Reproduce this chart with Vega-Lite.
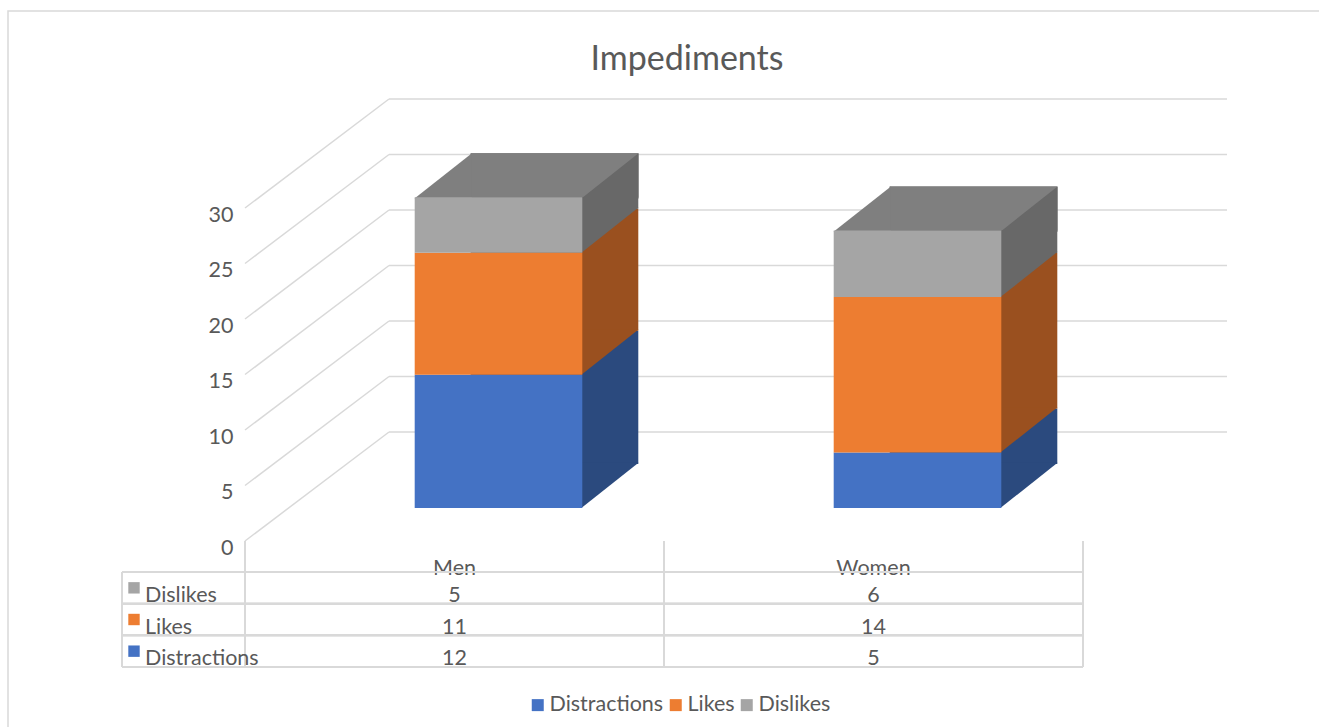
{
  "$schema": "https://vega.github.io/schema/vega-lite/v6.json",
  "width": 838,
  "height": 333,
  "autosize": {"type": "none"},
  "padding": {"left": 245, "top": 208, "right": 236, "bottom": 186},
  "background": "white",
  "config": {"view": {"stroke": null}, "font": "Lato"},
  "title": {
    "text": "Impediments",
    "font": "Lato",
    "fontSize": 34,
    "fontWeight": "normal",
    "color": "#595959",
    "anchor": "middle",
    "frame": "group",
    "baseline": "alphabetic",
    "dx": 23,
    "offset": -94
  },
  "datasets": {
    "main": [
      {"group": "Men", "series": "Distractions", "rank": 1, "value": 12},
      {"group": "Men", "series": "Likes", "rank": 2, "value": 11},
      {"group": "Men", "series": "Dislikes", "rank": 3, "value": 5},
      {"group": "Women", "series": "Distractions", "rank": 1, "value": 5},
      {"group": "Women", "series": "Likes", "rank": 2, "value": 14},
      {"group": "Women", "series": "Dislikes", "rank": 3, "value": 6}
    ],
    "ticks": [
      {"tick": 0}, {"tick": 5}, {"tick": 10}, {"tick": 15}, {"tick": 20}, {"tick": 25}, {"tick": 30}
    ],
    "one": [{}]
  },
  "data": {"name": "main"},
  "transform": [
    {"stack": "value", "groupby": ["group"], "sort": [{"field": "rank", "order": "ascending"}], "as": ["v0", "v1"]}
  ],
  "layer": [
    {
      "layer": [
        {
          "data": {"name": "one"},
          "mark": {"type": "rect", "filled": false, "stroke": "#d9d9d9", "strokeWidth": 1.5},
          "encoding": {
            "x": {"value": -237}, "x2": {"value": 1080},
            "y": {"value": -197}, "y2": {"value": 530}
          }
        },
        {
          "data": {"name": "ticks"},
          "mark": {"type": "rule", "stroke": "#d9d9d9", "strokeWidth": 1.5, "y2Offset": -109},
          "encoding": {
            "x": {"value": 0}, "x2": {"value": 144},
            "y": {"field": "tick", "type": "quantitative", "scale": {"domain": [0, 30], "nice": false}},
            "y2": {"field": "tick"}
          }
        },
        {
          "data": {"name": "ticks"},
          "mark": {"type": "rule", "stroke": "#d9d9d9", "strokeWidth": 1.5, "yOffset": -109},
          "encoding": {
            "x": {"value": 144}, "x2": {"value": 982},
            "y": {"field": "tick", "type": "quantitative", "scale": {"domain": [0, 30], "nice": false}}
          }
        },
        {
          "mark": {"type": "bar", "width": {"band": 0.4}, "xOffset": 100, "yOffset": -77, "y2Offset": -77},
          "encoding": {
            "x": {"field": "group", "type": "nominal"},
            "y": {"field": "v1", "type": "quantitative", "stack": null, "scale": {"domain": [0, 30], "nice": false}},
            "y2": {"field": "v0"},
            "fill": {"field": "series", "type": "nominal", "legend": null,
              "scale": {"domain": ["Dislikes", "Likes", "Distractions"], "range": ["#686868", "#9a501f", "#2b4a7e"]}}
          }
        },
        {
          "transform": [{"filter": {"field": "rank", "equal": 3}}],
          "mark": {"type": "bar", "width": {"band": 0.4}, "xOffset": 100, "yOffset": -77, "y2Offset": -33, "fill": "#7f7f7f"},
          "encoding": {
            "x": {"field": "group", "type": "nominal"},
            "y": {"field": "v1", "type": "quantitative", "stack": null, "scale": {"domain": [0, 30], "nice": false}},
            "y2": {"field": "v1"}
          }
        },
        {
          "mark": {"type": "point", "shape": "M-1.04,-0.83L1,-0.83L-1.04,0.7857Z", "size": 3136, "filled": true, "opacity": 1, "strokeWidth": 0, "xOffset": 156, "yOffset": -55},
          "encoding": {
            "x": {"field": "group", "type": "nominal"},
            "y": {"field": "v0", "type": "quantitative", "scale": {"domain": [0, 30], "nice": false}},
            "fill": {"field": "series", "type": "nominal", "legend": null,
              "scale": {"domain": ["Dislikes", "Likes", "Distractions"], "range": ["#686868", "#9a501f", "#2b4a7e"]}}
          }
        },
        {
          "transform": [{"filter": {"field": "rank", "equal": 3}}],
          "mark": {"type": "point", "shape": "M-1,0.83L1.05,-0.7857L1.05,0.83Z", "size": 3136, "filled": true, "opacity": 1, "strokeWidth": 0, "xOffset": -12, "yOffset": -55, "fill": "#7f7f7f"},
          "encoding": {
            "x": {"field": "group", "type": "nominal"},
            "y": {"field": "v1", "type": "quantitative", "scale": {"domain": [0, 30], "nice": false}}
          }
        },
        {
          "transform": [{"filter": {"field": "rank", "equal": 3}}],
          "mark": {"type": "point", "shape": "M-1.04,0.83L1,0.83L1,-0.7857Z", "size": 3136, "filled": true, "opacity": 1, "strokeWidth": 0, "xOffset": 156, "yOffset": -55, "fill": "#686868"},
          "encoding": {
            "x": {"field": "group", "type": "nominal"},
            "y": {"field": "v1", "type": "quantitative", "scale": {"domain": [0, 30], "nice": false}}
          }
        },
        {
          "mark": {"type": "bar", "width": {"band": 0.4}, "xOffset": 44, "yOffset": -33, "y2Offset": -33},
          "encoding": {
            "x": {"field": "group", "type": "nominal", "sort": ["Men", "Women"],
              "scale": {"paddingInner": 0, "paddingOuter": 0},
              "axis": {"title": null, "domain": false, "ticks": false, "tickSize": 0, "grid": false, "labelAngle": 0,
                "labelAlign": "center", "labelPadding": 33, "labelBaseline": "alphabetic", "labelFontSize": 21.5, "labelFont": "Lato", "labelColor": "#595959"}},
            "y": {"field": "v1", "type": "quantitative", "stack": null,
              "scale": {"domain": [0, 30], "nice": false},
              "axis": {"title": null, "values": [0, 5, 10, 15, 20, 25, 30], "domain": false, "ticks": false, "tickSize": 0, "grid": false,
                "labelPadding": 12, "labelOffset": 7, "labelFontSize": 21.5, "labelFont": "Lato", "labelColor": "#595959"}},
            "y2": {"field": "v0"},
            "color": {"field": "series", "type": "nominal",
              "scale": {"domain": ["Distractions", "Likes", "Dislikes"], "range": ["#4472c4", "#ed7d31", "#a5a5a5"]},
              "legend": {"orient": "none", "legendX": 282, "legendY": 486, "direction": "horizontal", "title": null,
                "symbolType": "square", "symbolSize": 144, "symbolStrokeWidth": 0, "symbolOpacity": 1,
                "labelFontSize": 21.5, "labelFont": "Lato", "labelColor": "#595959", "labelOffset": 1,
                "columnPadding": 1, "padding": 0}}
          }
        }
      ]
    },
    {
      "layer": [
        {
          "mark": {"type": "rule", "stroke": "#d9d9d9", "strokeWidth": 2},
          "encoding": {
            "x": {"value": -123}, "x2": {"value": "width"},
            "y": {"field": "series", "type": "nominal", "bandPosition": 0, "axis": null,
              "scale": {"type": "band", "domain": ["Dislikes", "Likes", "Distractions"], "range": [364, 459], "paddingInner": 0, "paddingOuter": 0}}
          }
        },
        {
          "mark": {"type": "rule", "stroke": "#d9d9d9", "strokeWidth": 2},
          "encoding": {
            "x": {"value": -123}, "x2": {"value": "width"},
            "y": {"field": "series", "type": "nominal", "bandPosition": 1, "axis": null,
              "scale": {"type": "band", "domain": ["Dislikes", "Likes", "Distractions"], "range": [364, 459], "paddingInner": 0, "paddingOuter": 0}}
          }
        },
        {
          "mark": {"type": "rule", "stroke": "#d9d9d9", "strokeWidth": 2},
          "encoding": {
            "x": {"field": "group", "type": "nominal", "bandPosition": 0},
            "y": {"value": 333}, "y2": {"value": 459}
          }
        },
        {
          "mark": {"type": "rule", "stroke": "#d9d9d9", "strokeWidth": 2},
          "encoding": {
            "x": {"field": "group", "type": "nominal", "bandPosition": 1},
            "y": {"value": 333}, "y2": {"value": 459}
          }
        },
        {
          "data": {"name": "one"},
          "mark": {"type": "rule", "stroke": "#d9d9d9", "strokeWidth": 2},
          "encoding": {
            "x": {"value": -123},
            "y": {"value": 364}, "y2": {"value": 459}
          }
        },
        {
          "mark": {"type": "text", "font": "Lato", "fontSize": 21.5, "color": "#595959", "baseline": "alphabetic", "dy": 14},
          "encoding": {
            "x": {"field": "group", "type": "nominal"},
            "y": {"field": "series", "type": "nominal", "axis": null,
              "scale": {"type": "band", "domain": ["Dislikes", "Likes", "Distractions"], "range": [364, 459], "paddingInner": 0, "paddingOuter": 0}},
            "text": {"field": "value", "type": "quantitative"}
          }
        },
        {
          "transform": [{"filter": {"field": "group", "equal": "Men"}}],
          "mark": {"type": "text", "font": "Lato", "fontSize": 21.5, "color": "#595959", "baseline": "alphabetic", "align": "left", "dy": 14},
          "encoding": {
            "x": {"value": -100},
            "y": {"field": "series", "type": "nominal", "axis": null,
              "scale": {"type": "band", "domain": ["Dislikes", "Likes", "Distractions"], "range": [364, 459], "paddingInner": 0, "paddingOuter": 0}},
            "text": {"field": "series", "type": "nominal"}
          }
        },
        {
          "transform": [{"filter": {"field": "group", "equal": "Men"}}],
          "mark": {"type": "point", "shape": "square", "size": 130, "filled": true, "opacity": 1, "strokeWidth": 0},
          "encoding": {
            "x": {"value": -111},
            "y": {"field": "series", "type": "nominal", "axis": null,
              "scale": {"type": "band", "domain": ["Dislikes", "Likes", "Distractions"], "range": [364, 459], "paddingInner": 0, "paddingOuter": 0}},
            "color": {"field": "series", "type": "nominal"}
          }
        }
      ]
    }
  ],
  "resolve": {"scale": {"y": "independent"}}
}
